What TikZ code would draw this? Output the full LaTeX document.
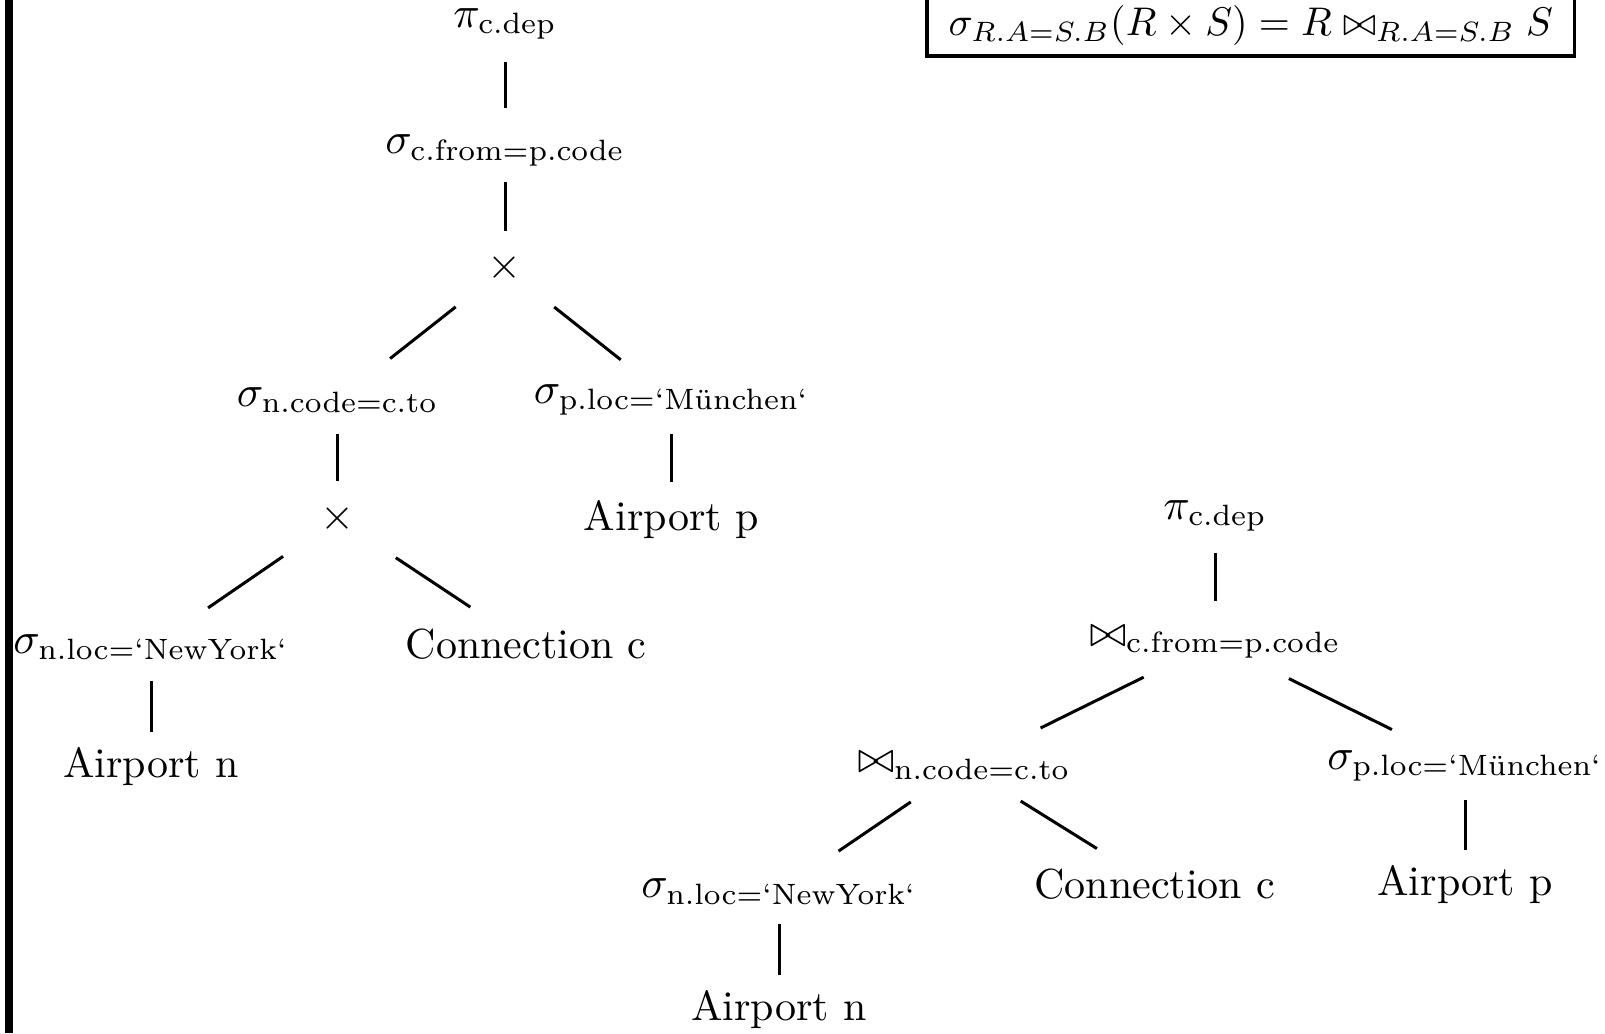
\documentclass[tikz,border=0pt]{standalone}
\usepackage{amsmath}
\begin{document}
\begin{tikzpicture}[x=0.25pt,y=-0.25pt,
  lbl/.style={inner sep=0pt, font=\fontsize{10.5}{12.6}\selectfont},
  edge/.style={line width=0.75pt},
  formulabox/.style={draw, line width=0.9pt, inner sep=0pt,
    minimum width=161.9pt, minimum height=15.5pt,
    font=\fontsize{10.45}{12.5}\selectfont}]
\useasboundingbox (0,0) rectangle (1605,1033);
\clip (0,0) rectangle (1605,1033);
% margin bar on the left
\fill (5,0) rectangle (13,1033);

% rule stated in the framed formula
\node[formulabox] (rule) at (1250.75,25)
  {$\sigma_{R.A=S.B}(R\times S) = R\bowtie_{R.A=S.B} S$};

% ---------- tree with cross products ----------
\node[lbl] (pA)  at (505,24)    {$\pi_{\text{c.dep}}$};
\node[lbl] (sA)  at (505,150.5) {$\sigma_{\text{c.from=p.code}}$};
\node[lbl] (xA)  at (505,268)   {$\times$};
\node[lbl] (sB)  at (337.5,400) {$\sigma_{\text{n.code=c.to}}$};
\node[lbl] (sC)  at (671.5,400) {$\sigma_{\text{p.loc=‘München‘}}$};
\node[lbl] (xB)  at (337.5,519) {$\times$};
\node[lbl] (apA) at (671.5,520) {Airport p};
\node[lbl] (sD)  at (151,647)   {$\sigma_{\text{n.loc=‘NewYork‘}}$};
\node[lbl] (ccA) at (526,644)   {Connection c};
\node[lbl] (anA) at (151,766.5) {Airport n};

\draw[edge, shorten <=9.5pt,  shorten >=10.75pt] (pA.center) -- (sA.center);
\draw[edge, shorten <=7.9pt,  shorten >=9.25pt]  (sA.center) -- (xA.center);
\draw[edge, shorten <=15.7pt, shorten >=16.75pt] (xA.center) -- (sB.center);
\draw[edge, shorten <=15.7pt, shorten >=16.2pt]  (xA.center) -- (sC.center);
\draw[edge, shorten <=8.5pt,  shorten >=9.5pt]   (sB.center) -- (xB.center);
\draw[edge, shorten <=8.5pt,  shorten >=9.5pt]   (sC.center) -- (apA.center);
\draw[edge, shorten <=16.5pt, shorten >=17.3pt]  (xB.center) -- (sD.center);
\draw[edge, shorten <=17.5pt, shorten >=16.7pt]  (xB.center) -- (ccA.center);
\draw[edge, shorten <=8.5pt,  shorten >=8.6pt]   (sD.center) -- (anA.center);

% ---------- tree with joins ----------
\node[lbl] (pB)  at (1215,516)    {$\pi_{\text{c.dep}}$};
\node[lbl] (jA)  at (1215,642)    {$\bowtie_{\text{c.from=p.code}}$};
\node[lbl] (jB)  at (964,765.7)   {$\bowtie_{\text{n.code=c.to}}$};
\node[lbl] (sE)  at (1465,765.7)  {$\sigma_{\text{p.loc=‘München‘}}$};
\node[lbl] (sF)  at (779,891.6)   {$\sigma_{\text{n.loc=‘NewYork‘}}$};
\node[lbl] (ccB) at (1154.6,884.5) {Connection c};
\node[lbl] (apB) at (1465,884.5)  {Airport p};
\node[lbl] (anB) at (779,1009.5)  {Airport n};

\draw[edge, shorten <=9.25pt, shorten >=10.25pt] (pB.center) -- (jA.center);
\draw[edge, shorten <=19.9pt, shorten >=21.35pt] (jA.center) -- (jB.center);
\draw[edge, shorten <=20.6pt, shorten >=20.4pt]  (jA.center) -- (sE.center);
\draw[edge, shorten <=16.1pt, shorten >=18pt]    (jB.center) -- (sF.center);
\draw[edge, shorten <=16.7pt, shorten >=17pt]    (jB.center) -- (ccB.center);
\draw[edge, shorten <=8.6pt,  shorten >=8.7pt]   (sE.center) -- (apB.center);
\draw[edge, shorten <=8.2pt,  shorten >=8.7pt]   (sF.center) -- (anB.center);
\end{tikzpicture}
\end{document}
